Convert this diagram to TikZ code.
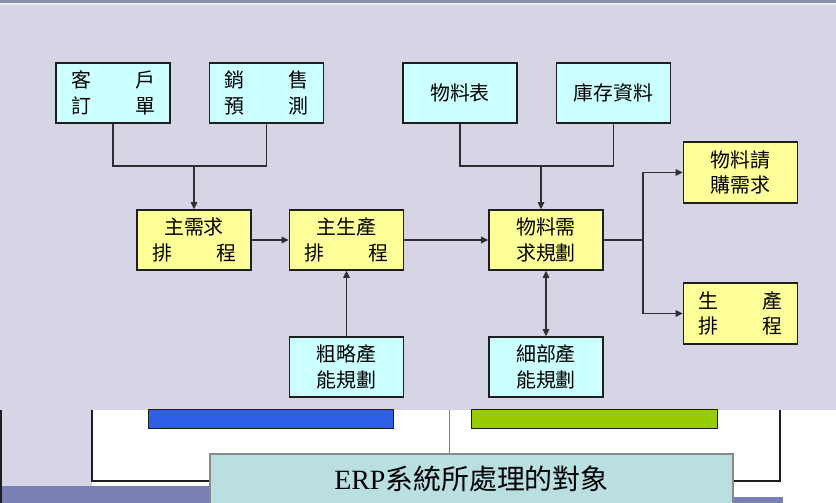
\documentclass[tikz,border=0pt]{standalone}
\usepackage{fontspec}
\newfontfamily\cjk{Noto Sans CJK TC}
\newfontfamily\lserif{Liberation Serif}
\usetikzlibrary{arrows.meta}
\newcommand\twoch[2]{\hbox to 84bp{#1\hfill #2}}
\definecolor{bglav}{HTML}{D5D5E6}
\definecolor{topband}{HTML}{8A8EA8}
\definecolor{botband}{HTML}{7B80B4}
\definecolor{cyanfill}{HTML}{CCFFFF}
\definecolor{yelfill}{HTML}{FFFF99}
\definecolor{boxline}{HTML}{1E1E1E}
\definecolor{connline}{HTML}{2E2E34}
\definecolor{bluebar}{HTML}{2F5FE6}
\definecolor{greenbar}{HTML}{99CC00}
\definecolor{erpfill}{HTML}{B9DFE1}
\definecolor{erpline}{HTML}{8A8A8A}
\begin{document}
\begin{tikzpicture}[x=1bp,y=-1bp,
  box/.style={draw=boxline, line width=1.6bp, minimum width=114bp, minimum height=60bp,
    inner sep=0pt, align=center, font=\cjk\fontsize{20}{25.5}\selectfont, text=black},
  cbox/.style={box, fill=cyanfill},
  ybox/.style={box, fill=yelfill},
  conn/.style={draw=connline, line width=1.4bp},
  arr/.style={conn, -{Triangle[length=7bp,width=6.5bp]}},
  darr/.style={conn, {Triangle[length=7bp,width=6.5bp]}-{Triangle[length=7bp,width=6.5bp]}}]
\useasboundingbox (0,0) rectangle (836,503);
% background
\fill[white] (0,0) rectangle (836,503);
\fill[bglav] (0,0) rectangle (836,410);
\fill[bglav] (0,410) rectangle (92,486);
\fill[topband] (0,0) rectangle (836,3);
\fill[white!60!bglav] (0,3) rectangle (836,5);
\fill[botband] (0,486) rectangle (733,503);
\fill[botband] (733,497) rectangle (783,503);
\draw[boxline, line width=1.5bp] (1,410) -- (1,503);
% lower slide fragments
\draw[boxline, line width=1.2bp] (92,410) -- (92,481) -- (210,481);
\draw[fill=bluebar, draw=boxline, line width=1bp] (148,409) rectangle (393,428);
\draw[fill=greenbar, draw=boxline, line width=1bp] (471,409) rectangle (717,428);
\draw[gray, line width=1bp] (449,410) -- (449,454);
\draw[boxline, line width=1.2bp] (780,410) -- (780,481) -- (733,481);
\node[draw=erpline, fill=erpfill, line width=2.5bp, minimum width=523bp, minimum height=50bp,
  inner sep=0pt, font=\cjk\fontsize{28}{30}\selectfont, text=black] (erp) at (471.5,479)
  {{\lserif ERP}系統所處理的對象};
% boxes
\node[cbox] (kh) at (113,93) {\twoch{客}{戶}\\\twoch{訂}{單}};
\node[cbox] (xs) at (266.5,93) {\twoch{銷}{售}\\\twoch{預}{測}};
\node[cbox] (wlb) at (460,93) {物料表};
\node[cbox] (kc) at (613.5,93) {庫存資料};
\node[ybox] (zxq) at (194,240) {主需求\\\twoch{排}{程}};
\node[ybox] (zsc) at (346.5,240) {主生產\\\twoch{排}{程}};
\node[ybox] (mrp) at (546,240) {物料需\\求規劃};
\node[cbox] (cl) at (346.5,367) {粗略產\\能規劃};
\node[cbox] (xb) at (546,367) {細部產\\能規劃};
\node[ybox, minimum height=61bp] (qg) at (740.5,172.5) {物料請\\購需求};
\node[ybox, minimum height=61bp] (sc) at (740.5,313.5) {\twoch{生}{產}\\\twoch{排}{程}};
% connectors
\coordinate (m1) at (194,166);
\coordinate (m2) at (541,166);
\coordinate (br) at (643,240);
\draw[conn] (kh.south) |- (m1) -| (xs.south);
\draw[arr] (m1) -- (zxq.north);
\draw[conn] (wlb.south) |- (m2) -| (kc.south);
\draw[arr] (m2) -- (m2 |- mrp.north);
\draw[arr] (zxq) -- (zsc);
\draw[arr] (zsc) -- (mrp);
\draw[arr] (cl) -- (zsc);
\draw[darr] (xb) -- (mrp);
\draw[conn] (mrp.east) -- (br);
\draw[arr] (br) |- (qg.west);
\draw[arr] (br) |- (sc.west);
\end{tikzpicture}
\end{document}
